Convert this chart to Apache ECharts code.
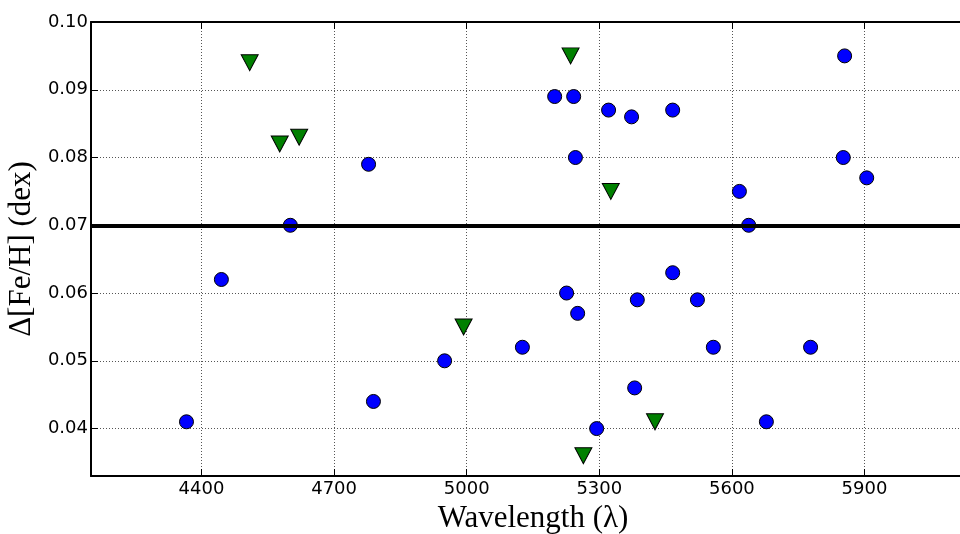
<!DOCTYPE html>
<html>
<head>
<meta charset="utf-8">
<script src="https://cdn.jsdelivr.net/npm/echarts@6/dist/echarts.min.js"></script>
<style>html,body{margin:0;padding:0;background:#fff}#c{width:960px;height:534px}</style>
</head>
<body>
<div id="c"></div>
<script>
const xTicks = [4400, 4700, 5000, 5300, 5600, 5900];
const yTicks = [0.04, 0.05, 0.06, 0.07, 0.08, 0.09, 0.10];
const meanLevel = 0.07;
const circlesX = [4366, 4445, 4601, 4778, 4789, 4950, 5126, 5199, 5242, 5246, 5226, 5251, 5294, 5321, 5373, 5380, 5386, 5466, 5466, 5522, 5558, 5617, 5638, 5678, 5778, 5852, 5855, 5905];
const circlesY = [0.041, 0.062, 0.070, 0.079, 0.044, 0.050, 0.052, 0.089, 0.089, 0.080, 0.060, 0.057, 0.040, 0.087, 0.086, 0.046, 0.059, 0.087, 0.063, 0.059, 0.052, 0.075, 0.070, 0.041, 0.052, 0.080, 0.095, 0.077];
const trianglesX = [4509, 4577, 4621, 4993, 5235, 5264, 5326, 5426];
const trianglesY = [0.094, 0.082, 0.083, 0.055, 0.095, 0.036, 0.075, 0.041];

const chart = echarts.init(document.getElementById('c'), null, {renderer: 'canvas'});
const gridLine = {show: true, lineStyle: {color: '#555', type: [1, 2], width: 1}};
const serif = '"Liberation Serif", "DejaVu Serif", serif';
const sans = '"DejaVu Sans", sans-serif';
chart.setOption({
  animation: false,
  backgroundColor: '#fff',
  grid: {left: 91, top: 22, right: -15, bottom: 58, outerBoundsMode: 'none', containLabel: false},
  xAxis: [{
    type: 'value', min: 4150, max: 6150, position: 'bottom',
    name: 'Wavelength (λ)', nameLocation: 'middle', nameGap: 25,
    nameTextStyle: {fontFamily: serif, fontSize: 31, color: '#000'},
    axisLine: {show: true, lineStyle: {color: '#000', width: 2}},
    axisTick: {show: true, inside: true, length: 7, customValues: xTicks, lineStyle: {color: '#000', width: 1}},
    axisLabel: {customValues: xTicks, color: '#000', fontFamily: sans, fontSize: 18, margin: 4,
      formatter: v => String(v)},
    splitLine: gridLine
  }, {
    type: 'value', min: 4150, max: 6150, position: 'top',
    axisLine: {show: true, onZero: false, lineStyle: {color: '#000', width: 2}},
    axisTick: {show: true, inside: true, length: 7, customValues: xTicks, lineStyle: {color: '#000', width: 1}},
    axisLabel: {show: false},
    splitLine: {show: false}
  }],
  yAxis: [{
    type: 'value', min: 0.033, max: 0.10, position: 'left',
    name: 'Δ[Fe/H] (dex)', nameLocation: 'middle', nameGap: 49,
    nameTextStyle: {fontFamily: serif, fontSize: 31, color: '#000'},
    axisLine: {show: true, lineStyle: {color: '#000', width: 2}},
    axisTick: {show: true, inside: true, length: 7, customValues: yTicks, lineStyle: {color: '#000', width: 1}},
    axisLabel: {customValues: yTicks, color: '#000', fontFamily: sans, fontSize: 18, margin: 3,
      formatter: v => v.toFixed(2)},
    splitLine: gridLine
  }],
  series: [{
    type: 'scatter', name: 'circles',
    data: circlesX.map((x, i) => [x, circlesY[i]]),
    symbol: 'circle', symbolSize: 14,
    itemStyle: {color: '#0000ff', borderColor: '#000', borderWidth: 1, opacity: 1},
    markLine: {
      silent: true, symbol: 'none', label: {show: false},
      lineStyle: {color: '#000', width: 4, type: 'solid'},
      data: [{yAxis: meanLevel}]
    },
    z: 3
  }, {
    type: 'scatter', name: 'triangles',
    data: trianglesX.map((x, i) => [x, trianglesY[i]]),
    symbol: 'triangle', symbolRotate: 180, symbolSize: [17, 16],
    itemStyle: {color: '#008000', borderColor: '#000', borderWidth: 1, opacity: 1},
    z: 4
  }]
});
</script>
</body>
</html>
